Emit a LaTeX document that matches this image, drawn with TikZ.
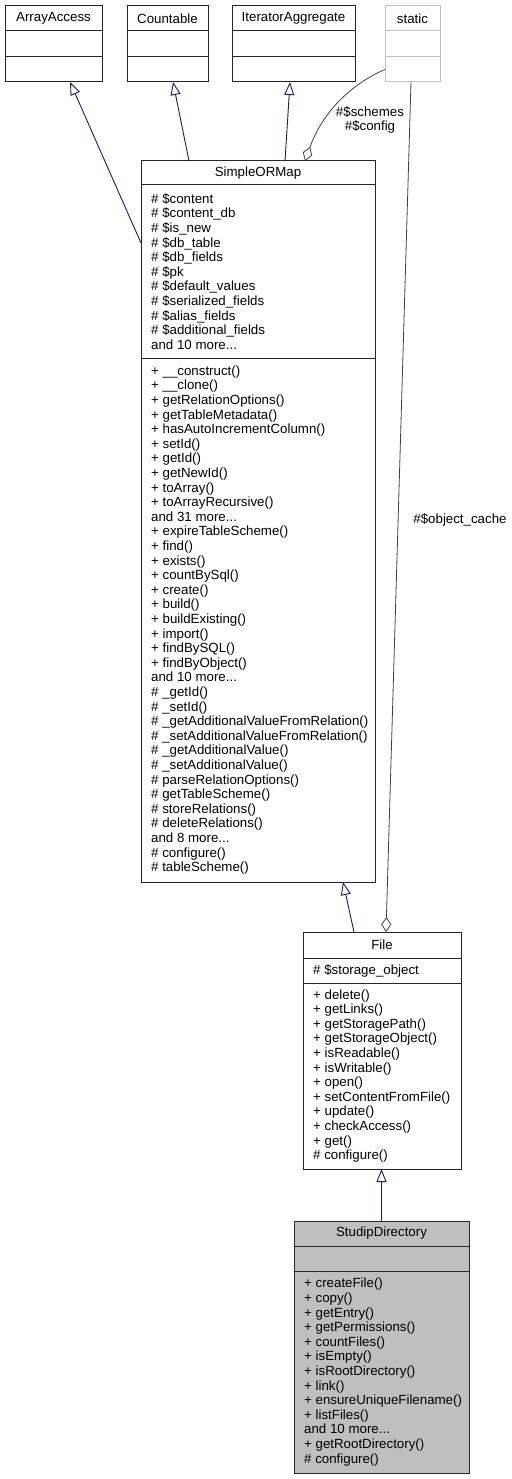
\documentclass[tikz,border=0pt]{standalone}
\usepackage{fontspec}
\setmainfont{Liberation Sans}
\usetikzlibrary{positioning, arrows.meta, calc}

\definecolor{edgeblue}{HTML}{191970}
\definecolor{edgegray}{HTML}{404040}
\definecolor{boxgray}{HTML}{BFBFBF}

\begin{document}
\begin{tikzpicture}[
    x=1pt, y=-1pt, % one unit = one pixel of the reference, y down
    every node/.style={font=\fontsize{13.3}{14.6}\selectfont},
    part/.style={draw=black!85, line width=1pt, inner sep=0pt, outer sep=0pt, minimum width=#1},
    members/.style={align=left, inner sep=0pt, anchor=west},
    inherit/.style={draw=edgeblue, line width=0.9pt, -{Triangle[open, length=13pt, width=10pt]}},
    aggr/.style={draw=edgegray, line width=0.8pt, -{Diamond[open, length=15pt, width=10pt]}}
]
    \useasboundingbox (0,0) rectangle (511,1479);

    % Interfaces on top
    \node[part=97, minimum height=25] (aa) at (53.5,18.5) {ArrayAccess};
    \node[part=97, minimum height=26, below=0pt of aa] (aa1) {};
    \node[part=97, minimum height=25, below=0pt of aa1] (aa2) {};

    \node[part=81, minimum height=25] (cnt) at (167.5,18.5) {Countable};
    \node[part=81, minimum height=26, below=0pt of cnt] (cnt1) {};
    \node[part=81, minimum height=25, below=0pt of cnt1] (cnt2) {};

    \node[part=123, minimum height=25] (ia) at (293.5,18.5) {IteratorAggregate};
    \node[part=123, minimum height=26, below=0pt of ia] (ia1) {};
    \node[part=123, minimum height=25, below=0pt of ia1] (ia2) {};

    \node[part=55, minimum height=25, draw=boxgray] (st) at (412.5,18.5) {static};
    \node[part=55, minimum height=26, draw=boxgray, below=0pt of st] (st1) {};
    \node[part=55, minimum height=25, draw=boxgray, below=0pt of st1] (st2) {};

    % SimpleORMap
    \node[part=234, minimum height=24] (sorm) at (258,173) {SimpleORMap};
    \node[part=234, minimum height=173, below=0pt of sorm] (sorm1) {};
    \node[part=234, minimum height=524, below=0pt of sorm1] (sorm2) {};
    \node[members] (sorm1t) at ([xshift=10pt]sorm1.west) {%
        \# \$content\\ \# \$content\_db\\ \# \$is\_new\\ \# \$db\_table\\
        \# \$db\_fields\\ \# \$pk\\ \# \$default\_values\\ \# \$serialized\_fields\\
        \# \$alias\_fields\\ \# \$additional\_fields\\ and 10 more...};
    \node[members] (sorm2t) at ([xshift=10pt]sorm2.west) {%
        + \_\_construct()\\ + \_\_clone()\\ + getRelationOptions()\\ + getTableMetadata()\\
        + hasAutoIncrementColumn()\\ + setId()\\ + getId()\\ + getNewId()\\
        + toArray()\\ + toArrayRecursive()\\ and 31 more...\\
        + expireTableScheme()\\ + find()\\ + exists()\\ + countBySql()\\
        + create()\\ + build()\\ + buildExisting()\\ + import()\\
        + findBySQL()\\ + findByObject()\\ and 10 more...\\
        \# \_getId()\\ \# \_setId()\\ \# \_getAdditionalValueFromRelation()\\
        \# \_setAdditionalValueFromRelation()\\ \# \_getAdditionalValue()\\
        \# \_setAdditionalValue()\\ \# parseRelationOptions()\\ \# getTableScheme()\\
        \# storeRelations()\\ \# deleteRelations()\\ and 8 more...\\
        \# configure()\\ \# tableScheme()};

    % File
    \node[part=158, minimum height=26] (file) at (382,945) {File};
    \node[part=158, minimum height=25, below=0pt of file] (file1) {};
    \node[part=158, minimum height=186, below=0pt of file1] (file2) {};
    \node[members] (file1t) at ([xshift=10pt]file1.west) {\# \$storage\_object};
    \node[members] (file2t) at ([xshift=10pt]file2.west) {%
        + delete()\\ + getLinks()\\ + getStoragePath()\\ + getStorageObject()\\
        + isReadable()\\ + isWritable()\\ + open()\\ + setContentFromFile()\\
        + update()\\ + checkAccess()\\ + get()\\ \# configure()};

    % StudipDirectory
    \node[part=175, minimum height=25, fill=boxgray] (sd) at (381.5,1233.5) {StudipDirectory};
    \node[part=175, minimum height=25, fill=boxgray, below=0pt of sd] (sd1) {};
    \node[part=175, minimum height=202, fill=boxgray, below=0pt of sd1] (sd2) {};
    \node[members] (sd2t) at ([xshift=10pt]sd2.west) {%
        + createFile()\\ + copy()\\ + getEntry()\\ + getPermissions()\\
        + countFiles()\\ + isEmpty()\\ + isRootDirectory()\\ + link()\\
        + ensureUniqueFilename()\\ + listFiles()\\ and 10 more...\\
        + getRootDirectory()\\ \# configure()};

    % Inheritance
    \draw[inherit] ([yshift=-58pt]sorm1.north west) -- ([xshift=16.5pt]aa2.south);
    \draw[inherit] ([xshift=-69pt]sorm.north) -- ([xshift=5.5pt]cnt2.south);
    \draw[inherit] ([xshift=27pt]sorm.north) -- ([xshift=-3.5pt]ia2.south);
    \draw[inherit] ([xshift=-28pt]file.north) -- ([xshift=85pt]sorm2.south);
    \draw[inherit] (sd.north) -- (sd.north |- file2.south);

    % Static members
    \draw[aggr] (st2.west) .. controls (360,80) and (325,105) .. ([xshift=47pt]sorm.north);
    \node[align=center] (schemes) at (370,120) {\#\$schemes\\\#\$config};
    \draw[aggr] ([xshift=-1.5pt]st2.south) -- ([xshift=4pt]file.north);
    \node (objcache) at (460,520) {\#\$object\_cache};
\end{tikzpicture}
\end{document}
